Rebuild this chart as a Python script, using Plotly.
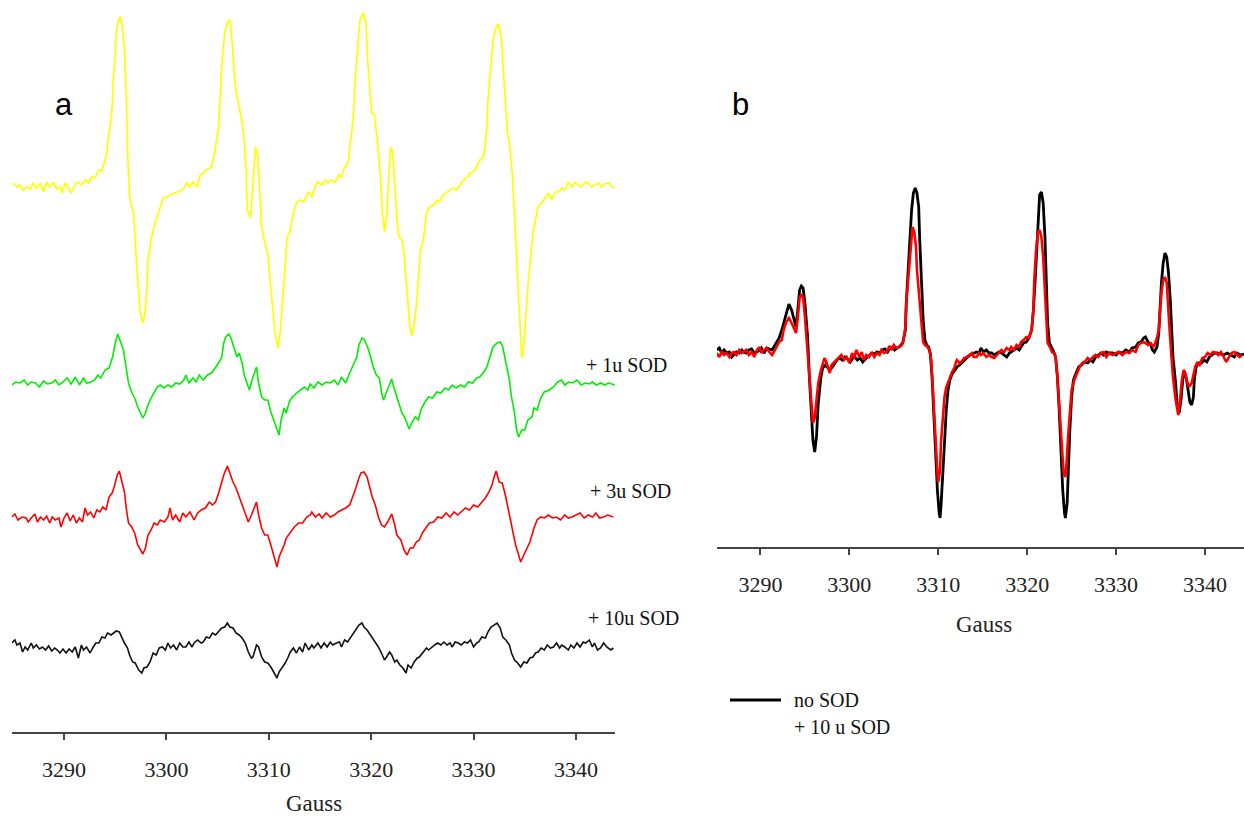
import plotly.graph_objects as go

# ---------------- data (field in Gauss, intensity in arbitrary units) ----------------
YELLOW = [(3285.0,2),(3285.4,-2),(3285.7,0),(3286.0,-5),(3286.4,-2),(3286.7,-4),(3287.0,2),(3287.3,-3),(3287.7,2),(3288.0,-7),(3288.3,3),(3288.6,-2),(3289.0,2),(3289.3,-4),(3289.6,-2),(3289.8,-8),(3290.1,2),(3290.4,-3),(3290.7,-8),(3291.1,1),(3291.4,3),(3291.7,0),(3292.1,5),(3292.4,2),(3292.7,8),(3293.0,7),(3293.4,15),(3293.7,14),(3293.9,22),(3294.2,32),(3294.3,45),(3294.5,58),(3294.7,78),(3294.8,102),(3295.0,132),(3295.1,152),(3295.3,165),(3295.5,168),(3295.7,158),(3295.9,135),(3296.1,85),(3296.2,35),(3296.4,-12),(3296.6,-22),(3296.8,-28),(3296.9,-48),(3297.1,-82),(3297.3,-108),(3297.4,-125),(3297.7,-138),(3297.9,-128),(3298.1,-102),(3298.2,-75),(3298.5,-55),(3298.7,-45),(3299.0,-35),(3299.4,-22),(3299.7,-13),(3300.0,-12),(3300.4,-10),(3300.7,-8),(3301.0,-7),(3301.3,-7),(3301.7,-3),(3302.0,2),(3302.3,-2),(3302.6,3),(3303.0,-2),(3303.3,10),(3303.6,12),(3303.9,15),(3304.4,18),(3304.7,32),(3305.1,58),(3305.4,118),(3305.7,152),(3305.95,163),(3306.2,165),(3306.4,145),(3306.7,102),(3306.9,88),(3307.1,78),(3307.35,65),(3307.6,45),(3307.8,12),(3307.9,-25),(3308.2,-33),(3308.3,-22),(3308.5,12),(3308.7,38),(3308.9,32),(3309.1,-2),(3309.3,-42),(3309.6,-58),(3309.9,-68),(3310.1,-92),(3310.4,-122),(3310.6,-148),(3310.9,-163),(3311.1,-148),(3311.35,-115),(3311.6,-78),(3311.8,-52),(3312.1,-45),(3312.4,-28),(3312.7,-18),(3313.0,-15),(3313.4,-17),
          (3313.9,-7),(3314.2,-12),(3314.5,-2),(3314.8,3),(3315.2,0),(3315.5,5),(3315.8,2),(3316.1,5),(3316.5,3),(3316.8,10),(3317.1,8),(3317.4,18),(3317.6,20),(3317.8,25),(3317.9,38),(3318.1,52),(3318.3,75),(3318.4,102),(3318.7,138),(3318.9,165),(3319.2,172),(3319.5,162),(3319.65,125),(3319.9,92),(3320.05,72),(3320.3,70),(3320.4,62),(3320.6,45),(3320.9,8),(3321.1,-28),(3321.3,-47),(3321.5,-32),(3321.7,5),(3321.9,38),(3322.1,32),(3322.3,-2),(3322.5,-32),(3322.7,-52),(3323.0,-55),(3323.2,-68),(3323.4,-95),(3323.6,-125),(3323.8,-145),(3323.95,-151),(3324.15,-142),(3324.4,-122),(3324.6,-95),(3324.8,-65),(3325.1,-55),(3325.4,-28),(3325.7,-22),(3326.1,-20),(3326.4,-15),(3326.7,-17),(3327.0,-10),(3327.4,-7),(3327.7,-5),(3328.0,-3),(3328.35,-5),(3328.7,0),(3329.0,5),(3329.3,7),(3329.65,12),(3330.0,13),(3330.3,18),(3330.6,25),(3330.95,28),(3331.1,38),(3331.3,58),(3331.4,85),(3331.7,118),(3331.9,145),(3332.2,158),(3332.4,161),(3332.7,148),(3332.9,112),(3333.1,75),(3333.3,52),(3333.55,38),(3333.8,8),(3334.0,-32),(3334.2,-75),(3334.4,-122),(3334.6,-162),(3334.7,-173),(3334.9,-162),(3335.1,-128),(3335.35,-95),(3335.6,-68),(3335.8,-48),(3336.1,-32),(3336.3,-22),(3336.65,-18),(3337.0,-12),(3337.3,-8),(3337.6,-15),(3337.95,-7),(3338.3,-7),(3338.6,-3),(3338.9,-5),(3339.25,3),(3339.6,-2),(3339.9,3),(3340.2,0),(3340.55,-2),(3340.9,3),(3341.2,2),(3341.5,-2),(3341.9,0),(3342.2,2),(3342.5,-2),(3342.8,1),(3343.2,2),(3343.5,-2),(3343.8,-2)]

GREEN_1U = [(3284.9,-3),(3285.3,0),(3285.7,-1),(3286.1,2),(3286.45,-3),(3286.8,0),(3287.2,-1),(3287.6,-5),(3288.0,1),(3288.4,-2),(3288.8,-1),(3289.15,2),(3289.5,-3),(3289.9,0),(3290.3,4),(3290.7,-2),(3291.1,5),(3291.5,-3),(3291.9,4),(3292.2,-1),(3292.6,0),(3293.0,2),(3293.3,7),(3293.6,4),(3294.0,12),(3294.4,14),(3294.75,25),(3295.0,39),(3295.25,48),(3295.5,40),(3295.8,32),(3296.0,19),(3296.3,-1),(3296.6,-10),(3296.9,-16),(3297.2,-25),(3297.45,-31),(3297.7,-36),(3297.95,-31),(3298.2,-23),(3298.5,-16),(3298.8,-11),(3299.1,-5),(3299.4,-3),(3299.8,-6),(3300.15,-3),(3300.5,-5),(3300.9,-1),(3301.3,-2),(3301.7,2),(3301.9,7),(3302.2,-1),(3302.6,4),(3302.9,0),(3303.2,7),(3303.6,2),(3304.0,7),(3304.4,9),(3304.8,15),(3305.1,19),(3305.4,25),(3305.6,39),(3305.8,45),(3306.1,48),(3306.3,44),(3306.6,34),(3306.9,25),(3307.1,29),(3307.4,19),(3307.6,7),(3307.9,-1),(3308.1,-8),(3308.45,5),(3308.8,15),(3309.0,-1),(3309.3,-15),(3309.6,-18),(3309.9,-18),(3310.2,-30),(3310.5,-38),(3310.8,-46),(3311.0,-53),(3311.2,-38),(3311.5,-26),(3311.7,-31),(3312.0,-20),(3312.3,-15),(3312.7,-11),(3313.1,-8),(3313.5,-5),(3313.8,-8),(3314.05,-2),(3314.4,-6),(3314.8,0),(3315.2,-3),(3315.6,0),(3316.0,-1),(3316.4,2),(3316.75,-3),(3317.1,5),(3317.5,-1),(3317.9,9),(3318.3,19),(3318.6,25),(3318.8,37),(3319.1,44),(3319.3,43),(3319.65,35),(3319.95,25),(3320.2,15),(3320.5,7),(3320.8,4),(3321.0,-10),(3321.2,-18),(3321.5,-10),(3322.0,3),(3322.2,-5),(3322.5,-15),(3322.7,-21),(3323.0,-31),(3323.3,-36),(3323.7,-47),(3324.0,-40),(3324.3,-35),(3324.6,-38),(3324.85,-28),(3325.2,-21),(3325.6,-15),(3326.0,-16),(3326.4,-10),(3326.8,-11),(3327.2,-6),(3327.55,-8),(3327.9,-3),(3328.3,-6),(3328.7,-3),(3329.1,-5),(3329.5,0),(3329.9,-1),(3330.3,4),(3330.6,5),(3331.0,10),(3331.3,15),(3331.6,25),(3331.9,35),(3332.3,39),(3332.6,40),(3332.85,35),(3333.15,19),(3333.5,2),(3333.7,-15),(3334.0,-31),(3334.2,-48),(3334.4,-55),(3334.7,-48),(3335.0,-48),(3335.3,-38),(3335.7,-35),(3335.9,-26),(3336.2,-28),(3336.55,-16),(3336.9,-10),(3337.4,-8),(3337.8,-5),(3338.2,0),(3338.6,2),(3338.9,-3),(3339.3,0),(3339.7,-1),(3340.1,2),(3340.5,-3),(3340.9,-1),(3341.3,-2),(3341.6,0),(3342.0,-3),(3342.4,-1),(3342.8,-3),(3343.2,-1),(3343.8,-3)]

RED_3U = [(3284.9,0),(3285.2,3),(3285.5,-3),(3285.9,0),(3286.3,-1),(3286.5,-5),(3286.8,-1),(3287.15,3),(3287.4,-5),(3287.7,0),(3288.0,-3),(3288.3,1),(3288.6,-6),(3288.85,0),(3289.15,-3),(3289.5,-1),(3289.7,-10),(3290.0,-1),(3290.3,4),(3290.6,-4),(3290.9,2),(3291.2,-6),(3291.5,-1),(3291.8,-5),(3292.05,9),(3292.3,2),(3292.6,5),(3292.9,-1),(3293.2,7),(3293.5,5),(3293.8,10),(3294.1,7),(3294.4,20),(3294.7,24),(3294.9,30),(3295.2,42),(3295.4,46),(3295.6,37),(3295.9,25),(3296.1,7),(3296.3,-6),(3296.6,-10),(3296.9,-16),(3297.2,-28),(3297.45,-33),(3297.7,-37),(3297.95,-31),(3298.2,-18),(3298.5,-13),(3298.8,-6),(3299.1,-8),(3299.4,-3),(3299.8,-5),(3300.15,0),(3300.35,9),(3300.6,-3),(3300.9,2),(3301.3,-5),(3301.6,4),(3301.9,0),(3302.3,5),(3302.7,-3),(3303.05,4),(3303.4,7),(3303.8,9),(3304.2,15),(3304.5,12),(3304.8,15),(3305.1,24),(3305.4,34),(3305.6,42),(3305.95,51),(3306.2,44),(3306.5,35),(3306.8,29),(3307.1,20),(3307.4,12),(3307.7,2),(3308.0,-5),(3308.3,2),(3308.8,15),(3309.0,2),(3309.3,-11),(3309.6,-18),(3309.9,-18),(3310.2,-28),(3310.5,-38),(3310.8,-50),(3311.0,-40),(3311.2,-35),(3311.5,-28),(3311.7,-21),(3312.1,-15),(3312.5,-10),(3312.9,-6),(3313.3,-6),(3313.7,0),(3314.05,2),(3314.2,5),(3314.55,0),(3314.9,3),(3315.2,-1),(3315.6,4),(3316.0,0),(3316.4,2),(3316.75,5),(3317.1,7),(3317.5,9),(3317.9,12),(3318.2,20),(3318.5,29),(3318.8,39),(3319.0,44),(3319.3,45),(3319.6,40),(3319.8,32),(3320.1,20),(3320.4,12),(3320.7,0),(3321.0,-8),(3321.3,-10),(3321.6,-5),(3322.0,3),(3322.3,-8),(3322.5,-18),(3322.9,-23),(3323.2,-33),(3323.5,-38),(3323.8,-31),(3324.1,-31),(3324.4,-25),(3324.7,-23),(3325.0,-16),(3325.4,-10),(3325.7,-6),(3326.1,-5),(3326.5,0),(3326.9,-1),(3327.3,4),(3327.7,0),(3328.1,5),(3328.45,2),(3328.8,5),(3329.2,9),(3329.6,7),(3330.0,12),(3330.4,10),(3330.8,15),(3331.15,19),(3331.5,25),(3331.8,32),(3332.0,40),(3332.2,46),(3332.5,35),(3332.8,34),(3333.1,22),(3333.35,9),(3333.6,-5),(3333.85,-18),(3334.1,-28),(3334.4,-38),(3334.6,-45),(3334.9,-38),(3335.2,-31),(3335.5,-25),(3335.9,-11),(3336.2,-3),(3336.55,0),(3336.9,-1),(3337.3,2),(3337.7,-1),(3338.1,0),(3338.5,-3),(3338.9,2),(3339.25,-1),(3339.6,0),(3340.0,2),(3340.4,4),(3340.8,-1),(3341.2,2),(3341.6,0),(3341.95,4),(3342.3,-1),(3342.7,0),(3343.1,2),(3343.65,0)]

BLACK_10U = [(3284.9,4),(3285.2,7),(3285.4,2),(3285.7,4),(3285.95,-5),(3286.2,0),(3286.45,-3),(3286.8,4),(3287.0,-1),(3287.3,2),(3287.6,-2),(3287.9,0),(3288.2,-3),(3288.5,1),(3288.8,-4),(3289.1,-1),(3289.35,-3),(3289.6,-6),(3289.9,-2),(3290.2,-6),(3290.5,-2),(3290.8,-5),(3291.1,0),(3291.4,-11),(3291.7,2),(3291.9,-3),(3292.2,0),(3292.55,-6),(3292.8,-1),(3293.1,4),(3293.4,4),(3293.7,10),(3294.0,9),(3294.25,14),(3294.6,12),(3294.9,15),(3295.1,16),(3295.4,15),(3295.6,10),(3295.9,4),(3296.2,-1),(3296.4,-8),(3296.7,-15),(3296.95,-16),(3297.3,-23),(3297.6,-26),(3297.8,-21),(3298.1,-20),(3298.4,-15),(3298.7,-6),(3299.0,-8),(3299.3,-1),(3299.6,0),(3299.9,-3),(3300.15,4),(3300.4,-1),(3300.7,2),(3301.0,-3),(3301.3,4),(3301.6,0),(3301.9,0),(3302.2,5),(3302.5,0),(3302.7,4),(3303.05,7),(3303.4,4),(3303.6,5),(3303.9,10),(3304.2,9),(3304.5,14),(3304.8,12),(3305.1,15),(3305.4,19),(3305.7,20),(3305.95,24),(3306.2,20),(3306.5,19),(3306.8,14),(3307.1,12),(3307.4,9),(3307.7,4),(3308.0,-5),(3308.3,-11),(3308.45,-10),(3308.8,2),(3309.0,0),(3309.3,-10),(3309.6,-15),(3309.9,-16),(3310.2,-20),(3310.5,-25),(3310.8,-31),(3311.0,-25),(3311.35,-20),(3311.6,-16),(3311.85,-11),(3312.1,-5),(3312.4,-1),(3312.7,-6),(3313.0,0),(3313.3,-5),(3313.55,4),(3313.9,-3),(3314.2,2),(3314.4,-1),(3314.8,4),(3315.1,-1),(3315.4,4),(3315.7,0),(3316.0,5),(3316.25,2),(3316.6,4),(3316.9,5),(3317.1,0),(3317.4,7),(3317.7,5),(3318.0,10),(3318.3,15),(3318.6,20),(3318.8,22),(3319.1,24),(3319.3,20),(3319.6,17),(3319.8,14),(3320.1,9),(3320.4,5),(3320.7,0),(3321.0,-6),(3321.3,-13),(3321.5,-10),(3321.8,-5),(3322.0,-8),(3322.3,-15),(3322.5,-13),(3322.8,-18),(3323.1,-21),(3323.4,-26),(3323.6,-18),(3323.9,-21),(3324.2,-15),(3324.5,-11),(3324.7,-10),(3325.05,-6),(3325.4,-1),(3325.6,-3),(3325.9,0),(3326.2,2),(3326.5,4),(3326.8,2),(3327.1,5),(3327.4,2),(3327.7,4),(3327.9,0),(3328.2,5),(3328.5,4),(3328.8,2),(3329.1,5),(3329.4,4),(3329.7,7),(3330.0,0),(3330.3,4),(3330.5,5),(3330.8,10),(3331.15,9),(3331.4,15),(3331.7,20),(3332.0,22),(3332.3,24),(3332.6,19),(3332.85,10),(3333.15,7),(3333.5,2),(3333.7,-6),(3334.0,-13),(3334.3,-16),(3334.6,-20),(3334.9,-15),(3335.2,-16),(3335.5,-11),(3335.8,-10),(3336.05,-6),(3336.3,-5),(3336.6,-1),(3336.9,-3),(3337.2,2),(3337.5,-1),(3337.8,0),(3338.1,4),(3338.4,-1),(3338.6,2),(3338.9,0),(3339.25,-3),(3339.5,2),(3339.8,-1),(3340.1,4),(3340.4,0),(3340.7,5),(3340.95,4),(3341.3,7),(3341.6,0),(3341.8,4),(3342.1,-3),(3342.4,-1),(3342.7,4),(3343.0,0),(3343.4,-3),(3343.65,-1)]

B_NO_SOD = [(3285.07,2),(3285.37,4),(3285.63,-1),(3285.9,2),(3286.2,-1),(3286.5,0),(3286.76,-5),(3287.0,-3),(3287.3,0),(3287.6,-1),(3287.9,2),(3288.1,0),(3288.4,-1),(3288.7,2),(3289.0,3),(3289.3,-1),(3289.6,0),(3289.9,2),(3290.1,4),(3290.4,-1),(3290.7,4),(3291.0,3),(3291.3,2),(3291.5,5),(3291.8,9),(3292.1,14),(3292.4,22),(3292.6,29),(3292.9,39),(3293.2,48),(3293.5,42),(3293.8,32),(3294.0,25),(3294.2,42),(3294.4,62),(3294.6,66),(3294.8,64),(3295.0,49),(3295.3,15),(3295.5,-25),(3295.7,-61),(3295.9,-88),(3296.1,-100),(3296.3,-85),(3296.5,-51),(3296.8,-25),(3297.0,-16),(3297.3,-13),(3297.5,-15),(3297.8,-18),(3298.1,-15),(3298.4,-10),(3298.6,-8),(3298.9,-6),(3299.2,-8),(3299.5,-5),(3299.8,-7),(3300.1,-10),(3300.4,-6),(3300.6,-5),(3300.9,-8),(3301.2,-6),(3301.5,-10),(3301.8,-7),(3302.0,-5),(3302.3,-3),(3302.6,-1),(3302.9,-2),(3303.1,0),(3303.4,-1),(3303.7,2),(3304.0,3),(3304.3,0),(3304.6,4),(3304.9,5),(3305.1,2),(3305.4,4),(3305.7,6),(3306.0,9),(3306.3,22),(3306.4,49),(3306.6,82),(3306.8,115),(3307.0,142),(3307.2,159),(3307.4,164),(3307.6,159),(3307.8,145),(3307.9,115),(3308.1,72),(3308.3,32),(3308.5,12),(3308.7,7),(3308.9,5),(3309.1,-1),(3309.3,-25),(3309.5,-61),(3309.7,-105),(3309.9,-138),(3310.1,-161),(3310.2,-166),(3310.3,-155),(3310.5,-128),(3310.7,-91),(3310.9,-58),(3311.1,-38),(3311.3,-28),(3311.6,-21),(3311.9,-18),(3312.1,-15),(3312.4,-13),(3312.7,-10),(3313.0,-8),(3313.3,-5),(3313.6,-3),(3313.9,-2),(3314.2,-1),
            (3314.3,0),(3314.6,-1),(3314.8,4),(3315.1,0),(3315.4,2),(3315.7,-1),(3316.0,-1),(3316.3,-3),(3316.6,-1),(3316.8,0),(3317.1,-1),(3317.4,-3),(3317.7,-5),(3318.0,-1),(3318.2,0),(3318.5,2),(3318.8,4),(3319.1,2),(3319.3,5),(3319.6,9),(3319.9,10),(3320.2,14),(3320.5,22),(3320.7,42),(3320.9,72),(3321.1,105),(3321.3,139),(3321.4,157),(3321.6,160),(3321.8,149),(3322.0,115),(3322.2,69),(3322.3,29),(3322.5,9),(3322.8,4),(3323.0,0),(3323.2,-5),(3323.4,-25),(3323.6,-58),(3323.8,-101),(3324.0,-138),(3324.2,-161),(3324.3,-166),(3324.5,-151),(3324.6,-118),(3324.8,-78),(3325.0,-45),(3325.2,-28),(3325.5,-21),(3325.8,-15),(3326.1,-13),(3326.4,-10),(3326.8,-11),(3327.1,-8),(3327.4,-10),(3327.7,-5),(3328.0,-3),(3328.3,-1),(3328.6,-3),(3328.9,0),(3329.2,-1),(3329.6,-1),(3330.0,-3),(3330.3,0),(3330.7,-1),(3331.1,2),(3331.5,0),(3331.8,4),(3332.2,5),(3332.5,9),(3332.8,10),(3333.1,14),(3333.3,15),(3333.6,10),(3333.9,7),(3334.1,2),(3334.3,0),(3334.6,5),(3334.8,19),(3334.9,42),(3335.1,69),(3335.3,89),(3335.5,99),(3335.7,95),(3335.9,79),(3336.1,52),(3336.3,22),(3336.4,-5),(3336.7,-31),(3336.9,-56),(3337.1,-61),(3337.3,-48),(3337.5,-28),(3337.6,-21),(3337.9,-26),(3338.1,-38),(3338.3,-50),(3338.5,-53),(3338.7,-45),(3338.8,-28),(3339.0,-15),(3339.3,-11),(3339.6,-11),(3339.9,-8),(3340.2,-10),(3340.5,-5),(3340.8,-3),(3341.1,-1),(3341.4,-1),(3341.8,-2),(3342.1,-3),(3342.5,-1),(3342.9,-3),(3343.3,-5),(3343.6,-1),(3344.0,-3),(3344.4,-2)]

B_10U_SOD = [(3285.07,-1),(3285.37,-5),(3285.63,0),(3285.9,-3),(3286.2,-1),(3286.5,-5),(3286.76,-1),(3287.0,0),(3287.3,-3),(3287.6,2),(3287.9,-1),(3288.1,0),(3288.4,2),(3288.7,-3),(3289.0,0),(3289.3,-5),(3289.6,2),(3289.9,5),(3290.1,-1),(3290.4,2),(3290.7,4),(3291.0,0),(3291.3,-3),(3291.5,0),(3291.8,5),(3292.1,10),(3292.4,12),(3292.6,22),(3292.9,30),(3293.2,34),(3293.5,29),(3293.8,22),(3294.0,19),(3294.2,35),(3294.4,54),(3294.6,58),(3294.8,54),(3295.0,35),(3295.3,2),(3295.5,-28),(3295.7,-51),(3295.9,-71),(3296.1,-66),(3296.3,-45),(3296.5,-31),(3296.8,-18),(3297.0,-11),(3297.2,-6),(3297.4,-10),(3297.6,-15),(3297.8,-21),(3298.0,-13),(3298.3,-10),(3298.6,-8),(3298.9,-5),(3299.1,-3),(3299.4,-8),(3299.7,-5),(3300.0,-11),(3300.3,-1),(3300.5,-6),(3300.8,2),(3301.1,-5),(3301.4,0),(3301.6,-8),(3301.9,-3),(3302.2,-5),(3302.5,0),(3302.8,-5),(3303.1,-1),(3303.4,-3),(3303.6,2),(3303.9,-1),(3304.2,0),(3304.5,6),(3304.8,2),(3305.0,7),(3305.3,4),(3305.6,5),(3305.9,7),(3306.1,12),(3306.3,25),(3306.4,49),(3306.6,72),(3306.8,99),(3307.0,115),(3307.1,125),(3307.3,120),(3307.5,105),(3307.6,82),(3307.9,49),(3308.1,25),(3308.3,10),(3308.5,7),(3308.8,5),(3309.0,2),(3309.2,-8),(3309.4,-38),(3309.6,-71),(3309.7,-101),(3309.9,-121),(3310.0,-130),(3310.2,-118),(3310.3,-91),(3310.5,-68),(3310.7,-45),(3310.9,-35),(3311.1,-31),(3311.3,-26),(3311.5,-21),(3311.8,-16),(3312.0,-10),(3312.1,-8),(3312.4,-11),(3312.6,-10),(3312.9,-6),(3313.2,-5),(3313.5,-3),(3313.8,-1),(3314.0,-5),
             (3314.3,-5),(3314.6,-1),(3314.8,-3),(3315.1,-1),(3315.4,-5),(3315.7,-3),(3316.0,-5),(3316.3,-6),(3316.6,-3),(3316.8,-1),(3317.1,2),(3317.4,0),(3317.7,4),(3318.0,2),(3318.2,5),(3318.5,2),(3318.8,7),(3319.1,5),(3319.3,10),(3319.6,12),(3319.9,15),(3320.2,14),(3320.5,22),(3320.7,42),(3320.8,72),(3321.0,102),(3321.2,119),(3321.4,122),(3321.6,115),(3321.8,95),(3322.0,65),(3322.2,32),(3322.3,9),(3322.6,4),(3322.8,0),(3323.0,-1),(3323.2,-5),(3323.4,-25),(3323.6,-55),(3323.8,-85),(3324.0,-108),(3324.1,-121),(3324.3,-125),(3324.4,-115),(3324.6,-85),(3324.8,-58),(3325.0,-38),(3325.3,-28),(3325.6,-21),(3325.9,-15),(3326.2,-11),(3326.5,-10),(3326.8,-6),(3327.1,-8),(3327.4,-5),(3327.7,-3),(3328.0,-5),(3328.3,-1),(3328.6,0),(3328.9,-5),(3329.2,-1),(3329.6,-3),(3330.0,-1),(3330.3,0),(3330.7,-3),(3331.1,0),(3331.5,-1),(3331.8,2),(3332.2,0),(3332.5,7),(3332.8,9),(3333.1,10),(3333.3,9),(3333.6,7),(3333.9,9),(3334.2,5),(3334.4,9),(3334.6,14),(3334.8,22),(3334.9,39),(3335.1,59),(3335.3,72),(3335.5,75),(3335.7,69),(3335.8,49),(3336.0,25),(3336.2,-1),(3336.4,-25),(3336.7,-48),(3336.9,-61),(3337.0,-63),(3337.2,-48),(3337.4,-28),(3337.6,-18),(3337.8,-21),(3338.0,-30),(3338.2,-35),(3338.5,-31),(3338.7,-21),(3338.9,-15),(3339.1,-11),(3339.4,-13),(3339.7,-6),(3340.0,-5),(3340.3,-1),(3340.6,-3),(3340.9,0),(3341.2,-1),(3341.5,-3),(3341.8,0),(3342.1,-5),(3342.4,-10),(3342.7,-5),(3343.0,-1),(3343.3,0),(3343.6,-3),(3343.9,-5),(3344.2,-3)]

TICKS = [3290, 3300, 3310, 3320, 3330, 3340]
LABELS_A = ["+ 1u SOD", "+ 3u SOD", "+ 10u SOD"]
LEGEND_B = ["no SOD", "+ 10 u SOD"]

# ---------------- styling / layout constants ----------------
W, H = 1244, 816
SERIF = "Liberation Serif"
OFFSETS_A = {"yellow": 547, "green": 350, "red": 215, "black": 85}

def px_x(p):
    return p / W

def px_y(p):
    return (H - p) / H

fig = go.Figure()

def add(series, color, width, xa, ya, offset=0):
    xs = [p[0] for p in series]
    ys = [p[1] + offset for p in series]
    fig.add_trace(go.Scatter(x=xs, y=ys, mode="lines", xaxis=xa, yaxis=ya,
                             line=dict(color=color, width=width),
                             showlegend=False, hoverinfo="skip"))

add(YELLOW, "#ffff00", 1.7, "x", "y", OFFSETS_A["yellow"])
add(GREEN_1U, "#00ee00", 1.6, "x", "y", OFFSETS_A["green"])
add(RED_3U, "#ff0000", 1.6, "x", "y", OFFSETS_A["red"])
add(BLACK_10U, "#111111", 1.6, "x", "y", OFFSETS_A["black"])

add(B_NO_SOD, "#000000", 2.8, "x2", "y2")
add(B_10U_SOD, "#ff0000", 2.6, "x2", "y2")

axis_common = dict(showline=True, linecolor="#444444", linewidth=2,
                   ticks="outside", ticklen=6, tickwidth=2, tickcolor="#444444",
                   tickvals=TICKS, ticktext=[str(t) for t in TICKS],
                   tickfont=dict(family=SERIF, size=22, color="#222222"),
                   showgrid=False, zeroline=False, ticklabelstandoff=11)

fig.update_layout(
    width=W, height=H, margin=dict(l=0, r=0, t=0, b=0),
    paper_bgcolor="white", plot_bgcolor="white", showlegend=False,
    xaxis=dict(domain=[px_x(12), px_x(615)], range=[3284.92, 3343.81],
               anchor="y", **axis_common),
    yaxis=dict(domain=[px_y(732), 1.0], range=[0, 732], visible=False),
    xaxis2=dict(domain=[px_x(717), 1.0], range=[3285.11, 3344.39],
                anchor="y2", **axis_common),
    yaxis2=dict(domain=[px_y(547), px_y(170)], range=[-195, 182], visible=False),
)

def note(txt, xp, yp, size, family=SERIF, xanchor="center", color="#111"):
    return dict(text=txt, x=px_x(xp), y=px_y(yp), xref="paper", yref="paper",
                xanchor=xanchor, yanchor="middle", showarrow=False,
                font=dict(family=family, size=size, color=color))

ann = [note("a", 64, 104, 31, family="Liberation Sans", color="#000"),
       note("b", 740, 104, 31, family="Liberation Sans", color="#000")]
for txt, (xp, yp) in zip(LABELS_A, [(584, 365), (588, 491), (586, 618)]):
    ann.append(note(txt, xp, yp, 20, xanchor="left"))
ann.append(note("Gauss", 314, 803, 23, color="#222"))
ann.append(note("Gauss", 984, 624, 23, color="#222"))
for txt, yp in zip(LEGEND_B, [700, 727]):
    ann.append(note(txt, 792, yp, 20, xanchor="left"))
fig.update_layout(annotations=ann)

fig.add_shape(type="line", xref="paper", yref="paper",
              x0=px_x(730), x1=px_x(781), y0=px_y(700), y1=px_y(700),
              line=dict(color="#000", width=3))

fig.write_html("out.html", config={"displayModeBar": False},
               post_script="document.body.style.margin='0';document.body.style.overflow='hidden';")
